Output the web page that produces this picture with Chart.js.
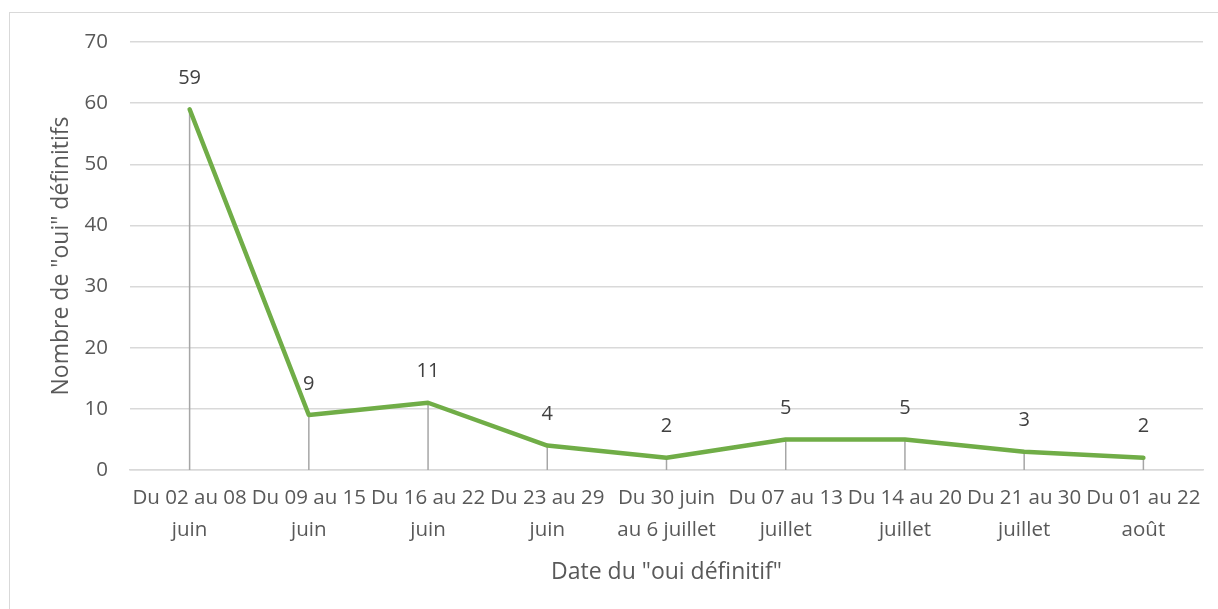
<!DOCTYPE html>
<html lang="fr">
<head>
<meta charset="utf-8">
<title>Oui définitifs</title>
<script src="https://cdn.jsdelivr.net/npm/chart.js@4.4.1/dist/chart.umd.min.js"></script>
<style>
  html, body { margin: 0; padding: 0; background: #fff; overflow: hidden; }
  #cadre { position: absolute; left: 9px; top: 12px; width: 1240px; height: 640px; border: 1px solid #d9d9d9; }
  #zone { position: absolute; left: 0; top: 0; width: 1218px; height: 609px; }
</style>
</head>
<body>
<div id="cadre"></div>
<div id="zone"><canvas id="graphique"></canvas></div>
<script>
// données du graphique
const semaines = [
  ['Du 02 au 08', 'juin'],
  ['Du 09 au 15', 'juin'],
  ['Du 16 au 22', 'juin'],
  ['Du 23 au 29', 'juin'],
  ['Du 30 juin', 'au 6 juillet'],
  ['Du 07 au 13', 'juillet'],
  ['Du 14 au 20', 'juillet'],
  ['Du 21 au 30', 'juillet'],
  ['Du 01 au 22', 'août']
];
const ouiDefinitifs = [59, 9, 11, 4, 2, 5, 5, 3, 2];
const graduations = [0, 10, 20, 30, 40, 50, 60, 70];

const police = '"Open Sans", Lato, sans-serif';
const gris = '#595959';

// lignes de projection vers l'axe horizontal
const lignesProjection = {
  id: 'lignesProjection',
  beforeDatasetsDraw(chart) {
    const ctx = chart.ctx;
    const y = chart.scales.y;
    const meta = chart.getDatasetMeta(0);
    ctx.save();
    ctx.strokeStyle = '#a6a6a6';
    ctx.lineWidth = 1.5;
    meta.data.forEach(pt => {
      ctx.beginPath();
      ctx.moveTo(pt.x, pt.y);
      ctx.lineTo(pt.x, y.getPixelForValue(0));
      ctx.stroke();
    });
    ctx.restore();
  }
};

// étiquettes de valeur au-dessus des points
const etiquettes = {
  id: 'etiquettes',
  afterDatasetsDraw(chart) {
    const ctx = chart.ctx;
    const meta = chart.getDatasetMeta(0);
    ctx.save();
    ctx.font = '20px ' + police;
    ctx.fillStyle = '#404040';
    ctx.textAlign = 'center';
    ctx.textBaseline = 'middle';
    meta.data.forEach((pt, i) => {
      ctx.fillText(String(ouiDefinitifs[i]), pt.x, pt.y - 31);
    });
    ctx.restore();
  }
};

new Chart(document.getElementById('graphique'), {
  type: 'line',
  data: {
    labels: semaines,
    datasets: [{
      data: ouiDefinitifs,
      borderColor: '#70ad47',
      borderWidth: 4.5,
      pointRadius: 0,
      tension: 0,
      borderCapStyle: 'round',
      borderJoinStyle: 'round'
    }]
  },
  options: {
    responsive: true,
    maintainAspectRatio: false,
    animation: false,
    layout: { padding: { top: 42, right: 15, left: 48, bottom: 23 } },
    plugins: {
      legend: { display: false },
      tooltip: { enabled: false }
    },
    scales: {
      x: {
        offset: true,
        grid: { display: false, drawTicks: false },
        border: { display: true, color: '#d9d9d9', width: 1.5 },
        afterFit(axis) { axis.height = 116; },
        ticks: {
          color: gris,
          font: { family: police, size: 20.5, lineHeight: 1.55 },
          maxRotation: 0,
          autoSkip: false,
          padding: 12
        },
        title: {
          display: true,
          text: 'Date du "oui définitif"',
          color: gris,
          font: { family: police, size: 23 },
          padding: { top: 0, bottom: 0 }
        }
      },
      y: {
        min: 0,
        max: 70,
        afterBuildTicks(axis) {
          axis.ticks = graduations.map(v => ({ value: v }));
        },
        afterFit(axis) { axis.width = 82; },
        grid: { color: '#d9d9d9', lineWidth: 1.5, drawTicks: false },
        border: { display: false },
        ticks: {
          color: gris,
          font: { family: police, size: 20.5 },
          padding: 22
        },
        title: {
          display: true,
          text: 'Nombre de "oui" définitifs',
          color: gris,
          font: { family: police, size: 23 },
          padding: { top: 0, bottom: 0 }
        }
      }
    }
  },
  plugins: [lignesProjection, etiquettes]
});
</script>
</body>
</html>
